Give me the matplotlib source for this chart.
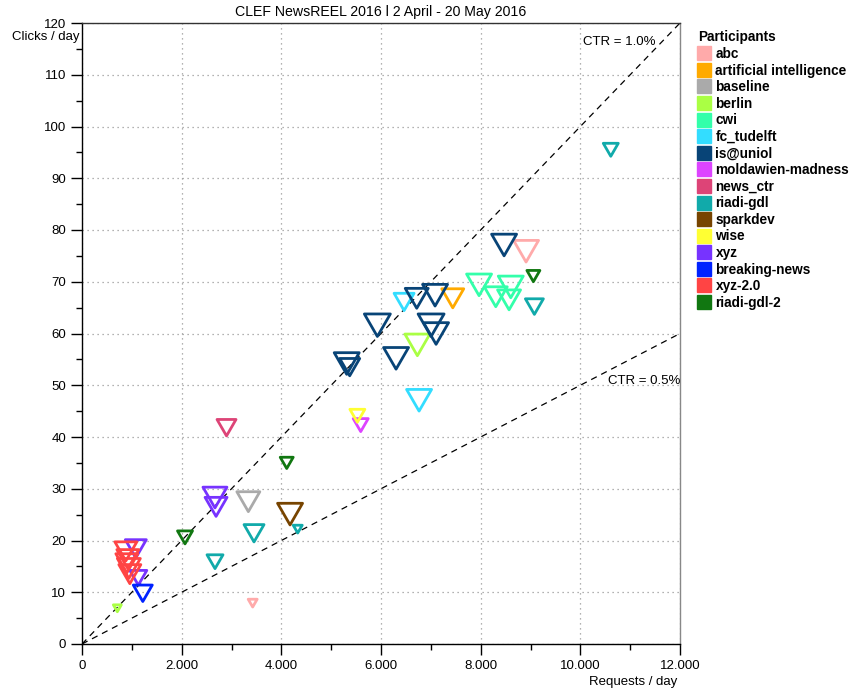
import matplotlib.pyplot as plt
from matplotlib.path import Path
from matplotlib.lines import Line2D
from matplotlib.ticker import MultipleLocator, FuncFormatter

plt.rcParams['font.family'] = ['Liberation Sans', 'DejaVu Sans']

teams = ["abc", "artificial intelligence", "baseline", "berlin", "cwi", "fc_tudelft",
         "is@uniol", "moldawien-madness", "news_ctr", "riadi-gdl", "sparkdev", "wise",
         "xyz", "breaking-news", "xyz-2.0", "riadi-gdl-2"]
colors = ["#FFAAAA", "#FFAA00", "#AAAAAA", "#AAFF44", "#33FFAA", "#33DDFF",
          "#084477", "#DD44FF", "#DD4477", "#11AAAA", "#774400", "#FFFF33",
          "#7733FF", "#0022FF", "#FF4444", "#117711"]

# one entry per submission: team index, requests/day, clicks/day, marker width (px)
pt_team = [0, 0,
           1,
           2,
           3, 3,
           4, 4, 4, 4,
           5, 5,
           6, 6, 6, 6, 6, 6, 6, 6, 6,
           7,
           8,
           9, 9, 9, 9, 9,
           10,
           11,
           12, 12, 12, 12,
           13,
           14, 14, 14, 14, 14,
           15, 15, 15]
pt_requests = [8911, 3425,
               7440,
               3338,
               6730, 709,
               7968, 8303, 8604, 8570,
               6463, 6764,
               8470, 5927, 6717, 7085, 7005, 7105, 6302, 5312, 5372,
               5593,
               2900,
               10611, 9078, 3452, 4329, 2669,
               4175,
               5526,
               2668, 2690, 1080, 1130,
               1220,
               880, 920, 900, 940, 960,
               9058, 4108, 2067]
pt_clicks = [75.9, 7.9,
             66.8,
             27.5,
             57.8, 6.9,
             69.4, 67.1, 69.0, 66.5,
             66.1, 47.1,
             77.1, 61.6, 66.8, 67.4, 61.6, 60.0, 55.2, 54.2, 53.5,
             42.3,
             41.8,
             95.5, 65.2, 21.4, 22.2, 15.9,
             25.1,
             44.1,
             28.3, 26.5, 18.4, 12.8,
             9.8,
             17.9, 16.4, 15.6, 14.6, 13.5,
             71.1, 35.0, 20.6]
pt_width = [25, 9,
            22,
            23,
            25, 8,
            25, 23, 25, 23,
            20, 25,
            25, 26, 23, 25, 26, 25, 25, 25, 20,
            15,
            19,
            15, 18, 20, 9, 16,
            25,
            15,
            24, 22, 21, 17,
            19,
            22, 22, 22, 23, 22,
            13, 13, 15]

xmax = 12000
ymax = 120

# equilateral, point-down triangle
tri = Path([(-1, 0.866), (1, 0.866), (0, -0.866), (-1, 0.866)],
           [Path.MOVETO, Path.LINETO, Path.LINETO, Path.CLOSEPOLY])

fig = plt.figure(figsize=(8.53, 6.92), dpi=100)
ax = fig.add_axes([82/853, 48/692, 598/853, 621/692])

# CTR reference lines
ax.plot([0, xmax], [0, xmax * 0.01], ls=(0, (5, 4)), color="black", lw=0.9, zorder=2)
ax.plot([0, xmax], [0, xmax * 0.005], ls=(0, (5, 4)), color="black", lw=0.9, zorder=2)
ax.text(11500, 116.3, "CTR = 1.0%", ha="right", va="center", fontsize=9.5)
ax.text(12000, 50.8, "CTR = 0.5%", ha="right", va="center", fontsize=9.5)

for t in range(len(teams)):
    xs = [pt_requests[i] for i in range(len(pt_team)) if pt_team[i] == t]
    ys = [pt_clicks[i] for i in range(len(pt_team)) if pt_team[i] == t]
    ss = [(pt_width[i] / 1.389) ** 2 for i in range(len(pt_team)) if pt_team[i] == t]
    ax.scatter(xs, ys, s=ss, marker=tri, facecolors="none", edgecolors=colors[t],
               linewidths=2.0, zorder=3 + t)

ax.set_xlim(0, xmax)
ax.set_ylim(0, ymax)
ax.xaxis.set_major_locator(MultipleLocator(2000))
ax.xaxis.set_minor_locator(MultipleLocator(1000))
ax.yaxis.set_major_locator(MultipleLocator(10))
ax.yaxis.set_minor_locator(MultipleLocator(5))
ax.xaxis.set_major_formatter(FuncFormatter(lambda v, p: f"{int(v):,}".replace(",", ".")))
ax.yaxis.set_major_formatter(FuncFormatter(lambda v, p: f"{int(v)}"))
ax.tick_params(which="major", direction="out", length=8, width=1, labelsize=9.5)
ax.tick_params(which="minor", direction="out", length=4, width=1)
ax.grid(True, which="major", ls=(0, (1, 3)), color="#999999", lw=0.9)
for s in ax.spines.values():
    s.set_linewidth(1)
ax.spines["top"].set_color("#333333")
ax.spines["right"].set_color("#888888")

ax.set_title("CLEF NewsREEL 2016 l 2 April - 20 May 2016", fontsize=10.2, pad=5)
fig.text(80/853, 1 - 37/692, "Clicks / day", ha="right", va="center", fontsize=9.5)
fig.text(677/853, 1 - 682/692, "Requests / day", ha="right", va="center", fontsize=9.5)

handles = [Line2D([], [], marker="s", ls="none", markersize=9.5, markerfacecolor=c,
                  markeredgecolor=c) for c in colors]
leg = fig.legend(handles, teams, loc="upper left", bbox_to_anchor=(693/853, 1 - 25/692),
                 frameon=False, title="Participants", alignment="left",
                 prop={"weight": "bold", "size": 9.8}, handlelength=0.8,
                 handletextpad=0.45, labelspacing=0.19, borderaxespad=0)
leg.get_title().set_fontweight("bold")
leg.get_title().set_fontsize(9.8)
leg._legend_box._children[0].sep = 1

fig.savefig("out.png", dpi=100)
